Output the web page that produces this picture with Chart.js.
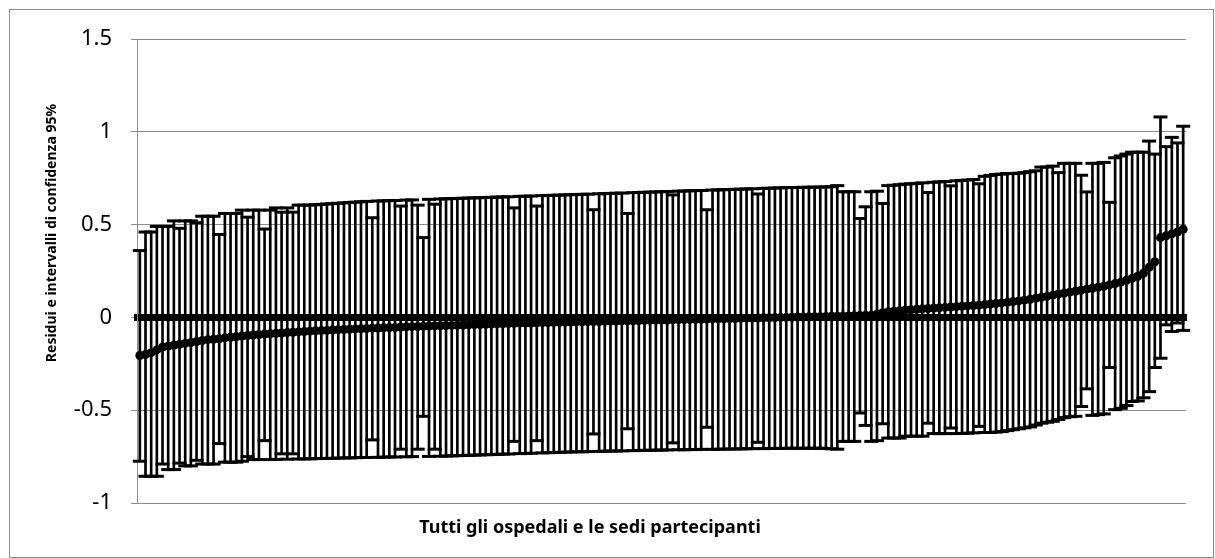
<!DOCTYPE html>
<html>
<head>
<meta charset="utf-8">
<script src="https://cdn.jsdelivr.net/npm/chart.js@4"></script>
<style>
  html, body { margin: 0; padding: 0; background: #fff; }
  #frame { position: absolute; left: 9px; top: 9px; width: 1205px; height: 549px; border: 1px solid #8c8c8c; box-sizing: border-box; }
  #wrap { position: absolute; left: 0; top: 0; width: 1215px; height: 558px; }
</style>
</head>
<body>
<div id="frame"></div>
<div id="wrap"><canvas id="caterpillar"></canvas></div>
<script>
// residui per ospedale, ordinati (lettura dal grafico)
var residui = [
  -0.205, -0.2, -0.19, -0.175, -0.16, -0.155, -0.15, -0.145, -0.14, -0.135,
  -0.13, -0.125, -0.12, -0.118, -0.115, -0.11, -0.107, -0.104, -0.1, -0.098,
  -0.095, -0.092, -0.09, -0.088, -0.086, -0.084, -0.082, -0.08, -0.078, -0.076,
  -0.074, -0.072, -0.071, -0.07, -0.068, -0.066, -0.065, -0.064, -0.062, -0.061,
  -0.06, -0.058, -0.057, -0.056, -0.055, -0.054, -0.052, -0.051, -0.05, -0.049,
  -0.048, -0.047, -0.046, -0.045, -0.044, -0.043, -0.042, -0.041, -0.04, -0.039,
  -0.038, -0.037, -0.036, -0.035, -0.034, -0.033, -0.032, -0.031, -0.031, -0.03,
  -0.029, -0.028, -0.028, -0.027, -0.026, -0.026, -0.025, -0.024, -0.024, -0.023,
  -0.022, -0.022, -0.021, -0.02, -0.02, -0.019, -0.018, -0.018, -0.017, -0.016,
  -0.016, -0.015, -0.014, -0.014, -0.013, -0.012, -0.012, -0.011, -0.01, -0.01,
  -0.009, -0.008, -0.008, -0.007, -0.006, -0.006, -0.005, -0.004, -0.004, -0.003,
  -0.002, -0.002, -0.001, 0, 0, 0.001, 0.002, 0.002, 0.003, 0.004,
  0.004, 0.005, 0.006, 0.006, 0.007, 0.008, 0.009, 0.01, 0.011, 0.012,
  0.018, 0.025, 0.03, 0.033, 0.036, 0.039, 0.041, 0.044, 0.046, 0.048,
  0.05, 0.052, 0.054, 0.056, 0.058, 0.06, 0.062, 0.064, 0.066, 0.069,
  0.072, 0.075, 0.078, 0.081, 0.085, 0.089, 0.093, 0.098, 0.103, 0.108,
  0.113, 0.12, 0.126, 0.131, 0.136, 0.141, 0.146, 0.152, 0.157, 0.162,
  0.168, 0.175, 0.182, 0.19, 0.2, 0.21, 0.222, 0.238, 0.27, 0.3,
  0.43, 0.44, 0.45, 0.46, 0.475
];

// limite superiore IC 95%
var superiori = [
  0.36, 0.46, 0.46, 0.49, 0.49, 0.49, 0.52, 0.48, 0.52, 0.52,
  0.51, 0.545, 0.545, 0.545, 0.447, 0.56, 0.56, 0.56, 0.578, 0.54,
  0.578, 0.578, 0.476, 0.578, 0.59, 0.567, 0.59, 0.567, 0.605, 0.605,
  0.605, 0.607, 0.609, 0.611, 0.613, 0.615, 0.617, 0.619, 0.621, 0.623,
  0.625, 0.537, 0.627, 0.628, 0.629, 0.63, 0.6, 0.632, 0.633, 0.605,
  0.43, 0.636, 0.61, 0.638, 0.639, 0.64, 0.641, 0.642, 0.643, 0.644,
  0.645, 0.646, 0.647, 0.648, 0.649, 0.65, 0.59, 0.652, 0.653, 0.654,
  0.6, 0.656, 0.657, 0.658, 0.659, 0.66, 0.661, 0.662, 0.663, 0.664,
  0.58, 0.666, 0.667, 0.668, 0.669, 0.67, 0.56, 0.672, 0.673, 0.674,
  0.675, 0.676, 0.677, 0.678, 0.66, 0.68, 0.681, 0.682, 0.683, 0.684,
  0.58, 0.686, 0.687, 0.688, 0.689, 0.69, 0.691, 0.692, 0.693, 0.665,
  0.695, 0.696, 0.697, 0.698, 0.699, 0.7, 0.7, 0.701, 0.701, 0.702,
  0.702, 0.703, 0.704, 0.71, 0.677, 0.677, 0.677, 0.533, 0.596, 0.677,
  0.68, 0.614, 0.71, 0.712, 0.715, 0.718, 0.72, 0.722, 0.725, 0.673,
  0.728, 0.73, 0.732, 0.709, 0.736, 0.738, 0.74, 0.743, 0.72, 0.76,
  0.765, 0.77, 0.772, 0.775, 0.775, 0.777, 0.78, 0.785, 0.79, 0.81,
  0.81, 0.815, 0.78, 0.83, 0.83, 0.83, 0.766, 0.676, 0.83, 0.83,
  0.835, 0.62, 0.86, 0.87, 0.88, 0.89, 0.89, 0.89, 0.95, 0.88,
  1.08, 0.92, 0.97, 0.94, 1.03
];

// limite inferiore IC 95%
var inferiori = [
  -0.775, -0.856, -0.856, -0.856, -0.79, -0.82, -0.82, -0.785, -0.8, -0.8,
  -0.77, -0.79, -0.79, -0.79, -0.68, -0.78, -0.78, -0.78, -0.775, -0.75,
  -0.766, -0.766, -0.664, -0.766, -0.765, -0.735, -0.764, -0.735, -0.763, -0.762,
  -0.762, -0.761, -0.76, -0.76, -0.759, -0.758, -0.757, -0.757, -0.756, -0.755,
  -0.755, -0.66, -0.754, -0.753, -0.752, -0.752, -0.71, -0.751, -0.75, -0.71,
  -0.533, -0.749, -0.71, -0.748, -0.747, -0.746, -0.745, -0.744, -0.743, -0.742,
  -0.741, -0.74, -0.739, -0.738, -0.737, -0.736, -0.668, -0.734, -0.733, -0.732,
  -0.664, -0.73, -0.729, -0.728, -0.727, -0.726, -0.725, -0.724, -0.724, -0.723,
  -0.628, -0.722, -0.721, -0.72, -0.72, -0.719, -0.6, -0.718, -0.717, -0.716,
  -0.716, -0.715, -0.715, -0.714, -0.676, -0.713, -0.713, -0.712, -0.712, -0.711,
  -0.592, -0.711, -0.71, -0.71, -0.709, -0.709, -0.708, -0.708, -0.707, -0.673,
  -0.707, -0.706, -0.706, -0.706, -0.705, -0.705, -0.705, -0.705, -0.705, -0.705,
  -0.705, -0.706, -0.708, -0.71, -0.668, -0.668, -0.668, -0.515, -0.582, -0.668,
  -0.664, -0.573, -0.65, -0.65, -0.65, -0.64, -0.64, -0.64, -0.64, -0.57,
  -0.626, -0.626, -0.626, -0.596, -0.626, -0.625, -0.624, -0.622, -0.587, -0.62,
  -0.62, -0.618, -0.615, -0.61, -0.605, -0.6, -0.595, -0.59, -0.58, -0.57,
  -0.565, -0.56, -0.55, -0.54, -0.535, -0.533, -0.48, -0.385, -0.528, -0.524,
  -0.52, -0.27, -0.497, -0.49, -0.475, -0.453, -0.45, -0.433, -0.4, -0.27,
  -0.22, -0.04, -0.076, -0.03, -0.07
];

var xTitle = 'Tutti gli ospedali e le sedi partecipanti';
var yTitle = 'Residui e intervalli di confidenza 95%';

Chart.defaults.font.family = '"Noto Sans", sans-serif';
Chart.defaults.color = '#000';

var hospitals = residui.map(function(r, i) { return 'Ospedale ' + (i + 1); });
var intervals = inferiori.map(function(lo, i) { return [lo, superiori[i]]; });

// titoli degli assi, posizionati come nel grafico Excel
var axisTitles = {
  id: 'axisTitles',
  afterDraw: function(chart) {
    var c = chart.ctx;
    c.save();
    c.fillStyle = '#000';
    c.textAlign = 'center';
    c.textBaseline = 'middle';
    c.font = 'bold 18px "Noto Sans"';
    c.fillText(xTitle, 590, 528);
    c.translate(52, 233);
    c.rotate(-Math.PI / 2);
    c.font = 'bold 14px "Noto Sans"';
    c.fillText(yTitle, 0, 0);
    c.restore();
  }
};

var ctx = document.getElementById('caterpillar').getContext('2d');
var chart = new Chart(ctx, {
  type: 'bar',
  data: {
    labels: hospitals,
    datasets: [{
      type: 'line',
      label: 'Residui',
      data: residui,
      showLine: false,
      pointStyle: 'circle',
      pointRadius: 4.5,
      pointBackgroundColor: '#000',
      pointBorderWidth: 0,
      clip: false
    }, {
      type: 'line',
      label: 'Limite superiore',
      data: superiori,
      showLine: false,
      pointStyle: 'line',
      pointRadius: 7,
      pointBorderColor: '#000',
      pointBorderWidth: 3,
      clip: false
    }, {
      type: 'line',
      label: 'Limite inferiore',
      data: inferiori,
      showLine: false,
      pointStyle: 'line',
      pointRadius: 7,
      pointBorderColor: '#000',
      pointBorderWidth: 3,
      clip: false
    }, {
      type: 'bar',
      label: 'IC 95%',
      data: intervals,
      backgroundColor: '#000',
      borderWidth: 0,
      barThickness: 2
    }]
  },
  options: {
    responsive: true,
    maintainAspectRatio: false,
    animation: false,
    layout: { padding: { left: 0, top: 39, right: 29, bottom: 55 } },
    plugins: {
      legend: { display: false },
      tooltip: { enabled: false }
    },
    scales: {
      x: {
        position: { y: 0 },
        grid: { display: false },
        ticks: { display: false },
        border: { display: true, color: '#000', width: 7 },
        afterFit: function(scale) { scale.height = 0; }
      },
      y: {
        min: -1,
        max: 1.5,
        ticks: {
          stepSize: 0.5,
          padding: 19,
          color: '#000',
          font: { size: 22 },
          callback: function(value) { return String(Math.round(value * 10) / 10); }
        },
        grid: { color: '#8c8c8c', tickLength: 6 },
        border: { color: '#8c8c8c' },
        afterFit: function(scale) { scale.width = 137; }
      }
    }
  },
  plugins: [axisTitles]
});
</script>
</body>
</html>
